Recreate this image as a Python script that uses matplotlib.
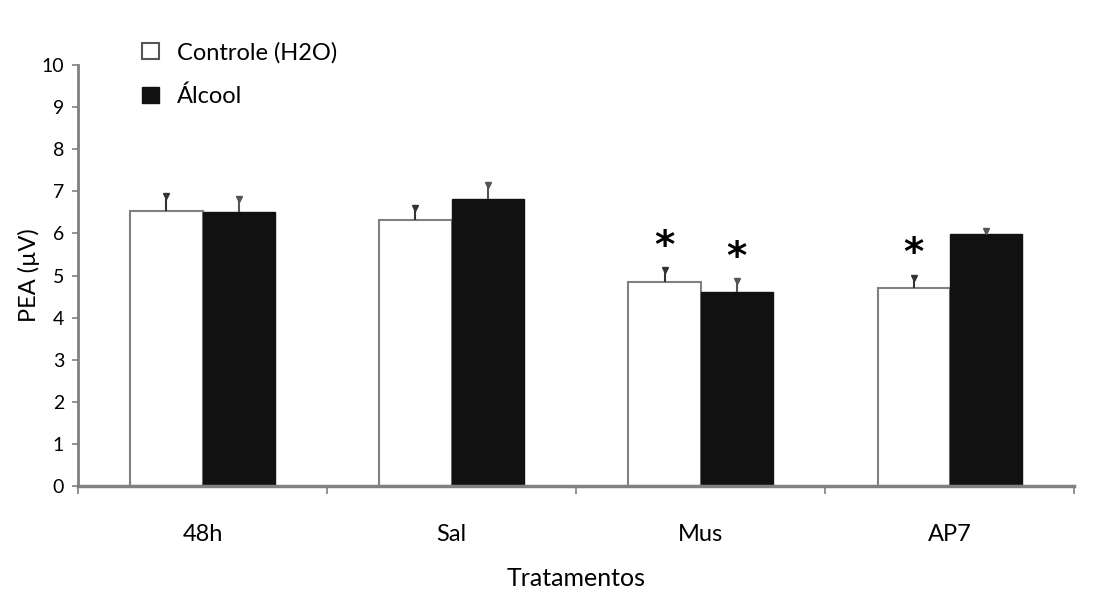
import matplotlib
matplotlib.use("Agg")
import matplotlib.pyplot as plt
import numpy as np
from matplotlib.patches import Patch

categories = ["48h", "Sal", "Mus", "AP7"]
controle = [6.54, 6.33, 4.85, 4.71]
controle_err = [0.35, 0.27, 0.28, 0.24]
alcool = [6.52, 6.83, 4.61, 5.98]
alcool_err = [0.30, 0.33, 0.26, 0.08]
sig_controle = [False, False, True, True]
sig_alcool = [False, False, True, False]
yticks = list(range(0, 11))

plt.rcParams['font.family'] = ['Lato', 'DejaVu Sans']

fig = plt.figure(figsize=(11.01, 5.92), dpi=100)
ax = fig.add_axes([0.0708, 0.179, 0.905, 0.711])

x = np.arange(len(categories))
w = 0.29
gray = "#808080"
ax.bar(x - w/2, controle, w, color="white", edgecolor=gray, linewidth=1.5, zorder=2)
ax.bar(x + w/2, alcool, w, color="#111111", edgecolor="#111111", linewidth=1.0, zorder=2)

c_top = np.array(controle) + np.array(controle_err)
a_top = np.array(alcool) + np.array(alcool_err)
ax.errorbar(x - w/2, controle, yerr=[np.zeros(4), controle_err], fmt="none",
            ecolor="#333333", elinewidth=1.5, capsize=0, zorder=3)
ax.errorbar(x + w/2, alcool, yerr=[np.zeros(4), alcool_err], fmt="none",
            ecolor="#555555", elinewidth=1.5, capsize=0, zorder=3)
ax.plot(x - w/2, c_top, linestyle="none", marker="v", markersize=4,
        color="#333333", zorder=4)
ax.plot(x + w/2, a_top, linestyle="none", marker="v", markersize=4,
        color="#555555", zorder=4)

for i in range(len(categories)):
    if sig_controle[i]:
        ax.text(x[i] - w/2, c_top[i] + 0.1, "*", ha="center", va="bottom",
                fontsize=28, fontweight="bold", fontfamily="DejaVu Sans")
    if sig_alcool[i]:
        ax.text(x[i] + w/2, a_top[i] + 0.1, "*", ha="center", va="bottom",
                fontsize=28, fontweight="bold", fontfamily="DejaVu Sans")

ax.set_xlim(-0.5, len(categories) - 0.5)
ax.set_ylim(0, 10)
ax.set_yticks(yticks)
ax.set_yticklabels([str(t) for t in yticks], fontsize=14)
ax.set_xticks(np.arange(-0.5, len(categories), 1.0))
ax.set_xticklabels([])
ax.set_xticks(x, minor=True)
ax.set_xticklabels(categories, minor=True, fontsize=17)
ax.tick_params(axis="x", which="major", direction="out", length=6, color=gray, width=1.2)
ax.tick_params(axis="x", which="minor", length=0, pad=27)
ax.tick_params(axis="y", direction="out", length=4, color=gray, width=1.2, pad=6)

for s in ["top", "right"]:
    ax.spines[s].set_visible(False)
ax.spines["left"].set_color(gray)
ax.spines["left"].set_linewidth(2)
ax.spines["bottom"].set_color(gray)
ax.spines["bottom"].set_linewidth(2.5)

ax.set_ylabel("PEA (µV)", fontsize=17, labelpad=1)
ax.set_xlabel("Tratamentos", fontsize=18, labelpad=16)

handles = [Patch(facecolor="white", edgecolor="#555555", linewidth=1.5, label="Controle (H2O)"),
           Patch(facecolor="#111111", edgecolor="#111111", label="Álcool")]
fig.legend(handles=handles, loc="upper left", bbox_to_anchor=(0.11, 0.965), frameon=False,
           fontsize=17, handlelength=0.7, handleheight=0.7, handletextpad=0.75, labelspacing=0.95)

fig.savefig("out.png", dpi=100, facecolor="white")
